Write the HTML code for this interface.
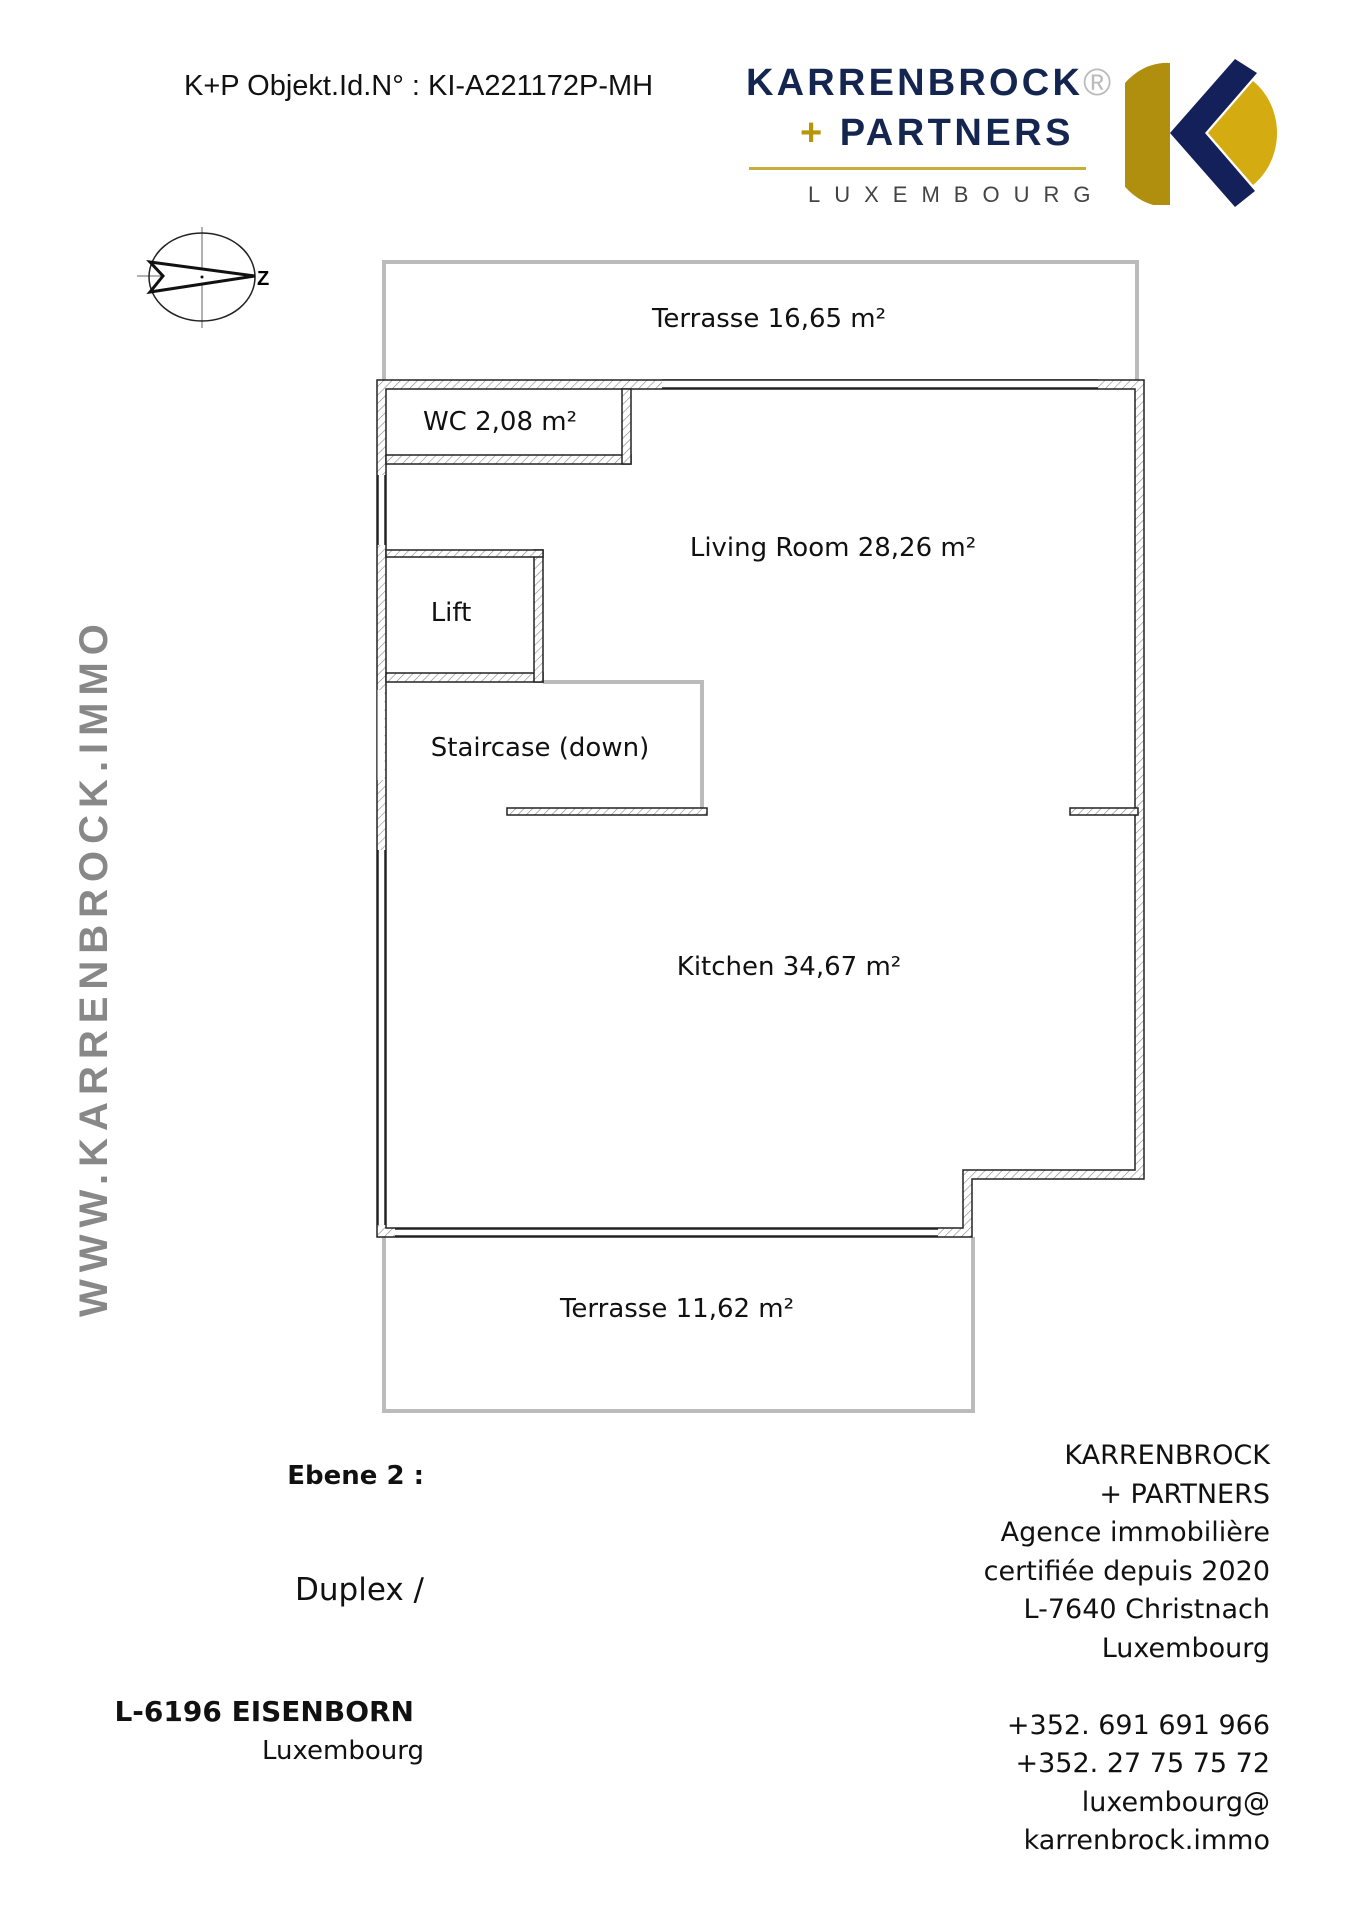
<!DOCTYPE html>
<html><head><meta charset="utf-8"><style>
body{margin:0;width:1357px;height:1920px;background:#fff;position:relative;overflow:hidden;font-family:"DejaVu Sans","Liberation Sans",sans-serif;color:#111}
.a{position:absolute;white-space:nowrap}
.r{text-align:right}
</style></head><body>
<div class="a" style="left:184px;top:70px;font-size:29px;font-family:'Liberation Sans',sans-serif;">K+P Objekt.Id.N° : KI-A221172P-MH</div>
<div class="a" style="left:746px;top:62px;font-size:38px;font-weight:bold;color:#14264f;letter-spacing:3.2px;font-family:'Liberation Sans',sans-serif">KARRENBROCK<span style="color:#bbb;font-weight:normal">®</span></div>
<div class="a" style="left:800px;top:112px;font-size:38px;font-weight:bold;color:#14264f;letter-spacing:3.5px;font-family:'Liberation Sans',sans-serif"><span style="color:#b8960c">+</span> PARTNERS</div>
<div class="a" style="left:749px;top:167px;width:337px;height:3px;background:#c9ad3a"></div>
<div class="a" style="left:808px;top:182px;font-size:22px;color:#444;letter-spacing:14px;font-family:'Liberation Sans',sans-serif">LUXEMBOURG</div>
<svg class="a" style="left:1125px;top:55px" width="175" height="160" viewBox="0 0 175 160">
<path d="M45 8 A80 75 0 0 0 45 150 L45 140 A70 68 0 0 1 45 18 Z" fill="#b08f0f"/>
<path d="M45 8 A60 72 0 0 0 28 150 L45 150 Z" fill="#b08f0f"/>
<path d="M128 26 A60 65 0 0 1 128 130 L83 78 Z" fill="#d4ac12"/>
<path d="M110 4 L132 18 L80 78 L130 136 L110 152 L45 78 Z" fill="#14205a"/>
</svg>
<svg class="a" style="left:135px;top:225px" width="150" height="105" viewBox="0 0 150 105">
<line x1="67" y1="2" x2="67" y2="103" stroke="#666" stroke-width="1"/>
<line x1="2" y1="51" x2="120" y2="51" stroke="#666" stroke-width="1"/>
<ellipse cx="67" cy="52" rx="53" ry="44" fill="none" stroke="#222" stroke-width="1.5"/>
<path d="M15 37 L120 51 L15 67 L28 51 Z" fill="#fff" stroke="#111" stroke-width="3"/>
<circle cx="67" cy="52" r="1.5" fill="#111"/>
<text x="122" y="60" font-size="20" font-weight="bold" font-family="Liberation Sans">Z</text>
</svg>
<div class="a" style="left:72px;top:1317px;transform:rotate(-90deg);transform-origin:0 0;font-size:40px;font-weight:bold;color:#888;letter-spacing:7px;font-family:'Liberation Sans',sans-serif">WWW.KARRENBROCK.IMMO</div>
<svg class="a" style="left:0;top:0" width="1357" height="1920">
<defs><pattern id="h" width="6" height="6" patternUnits="userSpaceOnUse" patternTransform="rotate(45)"><rect width="6" height="6" fill="#fff"/><line x1="0" y1="0" x2="0" y2="6" stroke="#888" stroke-width="1.2"/></pattern></defs>
<g fill="none" stroke="#bbb" stroke-width="4">
<path d="M384 380 L384 262 L1137 262 L1137 380"/>
<path d="M384 1237 L384 1411 L973 1411 L973 1237"/>
<path d="M543 682 L702 682 L702 811"/>
</g>
<g fill="url(#h)" stroke="#222" stroke-width="1.5">
<path d="M377 380 L1144 380 L1144 1179 L972 1179 L972 1237 L377 1237 Z M386 389 L386 1228 L963 1228 L963 1170 L1135 1170 L1135 389 Z" fill-rule="evenodd"/>
<rect x="386" y="455" width="245" height="9"/>
<rect x="622" y="389" width="9" height="75"/>
<rect x="386" y="673" width="157" height="9"/>
<rect x="534" y="550" width="9" height="132"/>
<rect x="386" y="550" width="157" height="7"/>
<rect x="507" y="808" width="200" height="7"/>
<rect x="1070" y="808" width="68" height="7"/>
</g>
<g stroke="#fff" stroke-width="7">
<line x1="662" y1="384" x2="1098" y2="384"/>
<line x1="395" y1="1232" x2="938" y2="1232"/>
<line x1="381" y1="475" x2="381" y2="545"/>
<line x1="381" y1="690" x2="381" y2="780"/>
<line x1="381" y1="850" x2="381" y2="1225"/>
</g>
<g stroke="#222" stroke-width="1.5">
<line x1="662" y1="380" x2="1098" y2="380"/><line x1="662" y1="388" x2="1098" y2="388"/>
<line x1="395" y1="1229" x2="938" y2="1229"/><line x1="395" y1="1236" x2="938" y2="1236"/>
<line x1="378" y1="475" x2="378" y2="545"/><line x1="385" y1="475" x2="385" y2="545"/>
<line x1="378" y1="850" x2="378" y2="1225"/><line x1="385" y1="850" x2="385" y2="1225"/>
</g>
<g font-size="26" fill="#111" font-family="DejaVu Sans,sans-serif" text-anchor="middle">
<text x="769" y="327">Terrasse 16,65 m²</text>
<text x="500" y="430">WC 2,08 m²</text>
<text x="833" y="556">Living Room 28,26 m²</text>
<text x="451" y="621">Lift</text>
<text x="540" y="756">Staircase (down)</text>
<text x="789" y="975">Kitchen 34,67 m²</text>
<text x="677" y="1317">Terrasse 11,62 m²</text>
</g>
</svg>
<div class="a r" style="right:933px;top:1461px;font-size:26px;font-weight:bold">Ebene 2 :</div>
<div class="a r" style="right:933px;top:1572px;font-size:31px">Duplex /</div>
<div class="a r" style="right:943px;top:1695px;font-size:28px;font-weight:bold;width:320px">L-6196 EISENBORN</div>
<div class="a r" style="right:933px;top:1736px;font-size:26px">Luxembourg</div>
<div class="a r" style="right:87px;top:1437px;font-size:27px;line-height:38.5px">KARRENBROCK<br>+ PARTNERS<br>Agence immobilière<br>certifiée depuis 2020<br>L-7640 Christnach<br>Luxembourg<br><br>+352. 691 691 966<br>+352. 27 75 75 72<br>luxembourg@<br>karrenbrock.immo</div>
</body></html>
